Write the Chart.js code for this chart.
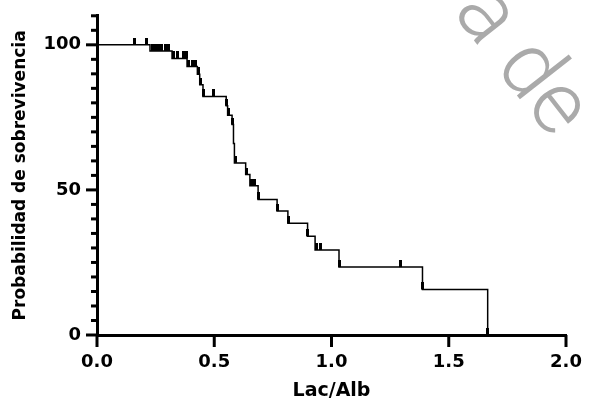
<!DOCTYPE html>
<html lang="es">
    <head>
        <meta charset="UTF-8" />
        <title>Probabilidad de sobrevivencia vs Lac/Alb</title>
        <script src="https://cdn.jsdelivr.net/npm/chart.js"></script>
        <style>
            html,
            body {
                margin: 0;
                padding: 0;
                background: #fff;
            }
            #wrap {
                width: 594px;
                height: 410px;
            }
        </style>
    </head>
    <body>
        <div id="wrap"><canvas id="kmChart"></canvas></div>
        <script>
            // Kaplan-Meier steps (time = Lac/Alb, survival in %)
            const kmTime = [0, 0.226, 0.32, 0.384, 0.428, 0.438, 0.452, 0.551, 0.557, 0.576, 0.582, 0.586, 0.634, 0.652, 0.687, 0.768, 0.814, 0.898, 0.93, 1.032, 1.388, 1.666];
            const kmSurv = [100, 97.9, 95.3, 92.5, 89.9, 86.2, 82.2, 79.0, 75.7, 72.5, 66.0, 59.3, 55.3, 51.4, 46.7, 42.7, 38.5, 34.0, 29.3, 23.4, 15.7, 0];

            // censored observations
            const censTime = [0.158, 0.213, 0.236, 0.249, 0.262, 0.276, 0.29, 0.303, 0.328, 0.345, 0.367, 0.381, 0.392, 0.406, 0.421, 0.431, 0.442, 0.454, 0.496, 0.553, 0.561, 0.579, 0.59, 0.638, 0.657, 0.67, 0.689, 0.769, 0.815, 0.899, 0.937, 0.951, 1.034, 1.296, 1.389, 1.666];
            const censSurv = [100, 100, 97.9, 97.9, 97.9, 97.9, 97.9, 97.9, 95.3, 95.3, 95.3, 95.3, 92.5, 92.5, 92.5, 89.9, 86.2, 82.2, 82.2, 79.0, 75.7, 72.5, 59.3, 55.3, 51.4, 51.4, 46.7, 42.7, 38.5, 34.0, 29.3, 29.3, 23.4, 23.4, 15.7, 0];

            const xTicks = [0, 0.5, 1, 1.5, 2];
            const yLabels = [0, 50, 100];

            // small upward tick used for censored points
            const censMark = document.createElement("canvas");
            censMark.width = 3;
            censMark.height = 14;
            const cm = censMark.getContext("2d");
            cm.fillStyle = "#000";
            cm.fillRect(0, 0, 3, 7);

            const axisTicks = {
                id: "axisTicks",
                afterDraw(chart) {
                    const { ctx, scales } = chart;
                    const x = scales.x, y = scales.y;
                    ctx.save();
                    ctx.strokeStyle = "#000";
                    ctx.lineWidth = 3;
                    y.ticks.forEach((t) => {
                        const py = y.getPixelForValue(t.value);
                        const len = yLabels.includes(t.value) ? 11 : 6;
                        ctx.beginPath();
                        ctx.moveTo(x.left - len, py);
                        ctx.lineTo(x.left, py);
                        ctx.stroke();
                    });
                    xTicks.forEach((v) => {
                        const px = x.getPixelForValue(v);
                        ctx.beginPath();
                        ctx.moveTo(px, y.bottom);
                        ctx.lineTo(px, y.bottom + 12);
                        ctx.stroke();
                    });
                    ctx.restore();
                },
            };

            // faint diagonal watermark in the top right corner
            const watermark = {
                id: "watermark",
                afterDraw(chart) {
                    const ctx = chart.ctx;
                    ctx.save();
                    ctx.font = "300 88px Roboto, sans-serif";
                    ctx.fillStyle = "#aaaaaa";
                    ctx.translate(494, 66);
                    ctx.rotate((52 * Math.PI) / 180);
                    ctx.textBaseline = "alphabetic";
                    const pre = ctx.measureText("a ").width;
                    ctx.fillText("a de", -pre, 0);
                    ctx.restore();
                },
            };

            new Chart(document.getElementById("kmChart"), {
                type: "line",
                data: {
                    datasets: [
                        {
                            data: kmTime.map((t, i) => ({ x: t, y: kmSurv[i] })),
                            stepped: true,
                            borderColor: "#000",
                            borderWidth: 1.5,
                            pointRadius: 0,
                            fill: false,
                        },
                        {
                            data: censTime.map((t, i) => ({ x: t, y: censSurv[i] })),
                            showLine: false,
                            pointStyle: censMark,
                            pointRadius: 4,
                        },
                    ],
                },
                options: {
                    responsive: true,
                    maintainAspectRatio: false,
                    animation: false,
                    layout: { padding: { top: 13, right: 28, left: 0, bottom: 0 } },
                    plugins: {
                        legend: { display: false },
                        tooltip: { enabled: false },
                    },
                    scales: {
                        x: {
                            type: "linear",
                            min: 0,
                            max: 2,
                            afterFit: (s) => {
                                s.height = 75;
                            },
                            grid: { display: false, drawTicks: true, tickLength: 12 },
                            border: { display: true, color: "#000", width: 3 },
                            ticks: {
                                stepSize: 0.5,
                                padding: 5,
                                color: "#000",
                                font: { family: "DejaVu Sans", weight: "bold", size: 18 },
                                callback: (v) => Number(v).toFixed(1),
                            },
                            title: {
                                display: true,
                                text: "Lac/Alb",
                                color: "#000",
                                font: { family: "DejaVu Sans", weight: "bold", size: 19 },
                                padding: { top: 0, bottom: 8 },
                            },
                        },
                        y: {
                            min: 0,
                            max: 110,
                            afterFit: (s) => {
                                s.width = 97;
                            },
                            grid: { display: false, drawTicks: true, tickLength: 11 },
                            border: { display: true, color: "#000", width: 3 },
                            ticks: {
                                stepSize: 5,
                                autoSkip: false,
                                padding: 5,
                                color: "#000",
                                font: { family: "DejaVu Sans", weight: "bold", size: 18 },
                                callback: (v) => (yLabels.includes(v) ? String(v) : ""),
                            },
                            title: {
                                display: true,
                                text: "Probabilidad de sobrevivencia",
                                color: "#000",
                                font: { family: "DejaVu Sans", weight: "bold", size: 17 },
                                padding: { top: 10, bottom: 0 },
                            },
                        },
                    },
                },
                plugins: [axisTicks, watermark],
            });
        </script>
    </body>
</html>
